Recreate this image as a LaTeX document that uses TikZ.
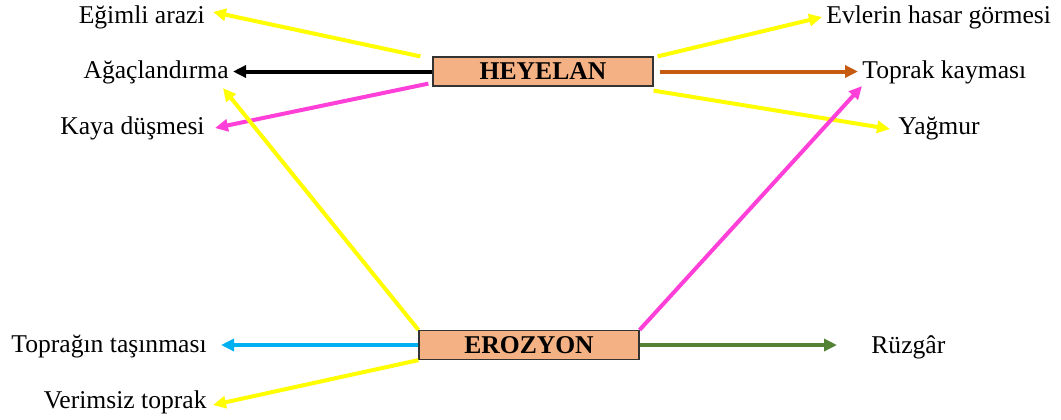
\documentclass[tikz,border=0pt]{standalone}
\usepackage{fontspec}
\setmainfont{Liberation Serif}
\usetikzlibrary{arrows.meta, positioning}

\definecolor{boxfill}{HTML}{F4B183}
\definecolor{sari}{HTML}{FFFF00}
\definecolor{pembe}{HTML}{FF40D8}
\definecolor{kahve}{HTML}{C55A11}
\definecolor{mavi}{HTML}{00B0F0}
\definecolor{yesil}{HTML}{548235}

\begin{document}
\begin{tikzpicture}[
    x=0.5pt, y=-0.5pt,
    every node/.style={font=\fontsize{12.8}{15}\selectfont, inner sep=1pt},
    box/.style={rectangle, draw=black!80, fill=boxfill, line width=0.6pt, minimum width=110pt, minimum height=14.5pt, font=\fontsize{12.8}{15}\selectfont\bfseries},
    arrow/.style={-{Triangle[length=6.5pt, width=6pt]}, line width=2pt}
]
\useasboundingbox (0,0) rectangle (1061,419);

% Nodes
\node[box] (heyelan) at (543,71.5) {HEYELAN};
\node[box] (erozyon) at (529,345) {EROZYON};

\node[anchor=east] (egimli) at (207,17) {Eğimli arazi};
\node[anchor=east] (agac) at (231,72) {Ağaçlandırma};
\node[anchor=east] (kaya) at (207,128) {Kaya düşmesi};
\node[anchor=west] (evler) at (824,17) {Evlerin hasar görmesi};
\node[anchor=west] (toprak) at (860,72) {Toprak kayması};
\node[anchor=west] (yagmur) at (896,129) {Yağmur};
\node[anchor=east] (tasinma) at (209,347) {Toprağın taşınması};
\node[anchor=east] (verimsiz) at (209,402) {Verimsiz toprak};
\node[anchor=west] (ruzgar) at (869,347) {Rüzgâr};

% Arrows
\draw[arrow, sari] ([xshift=-6pt]heyelan.north west) -- ([shift={(3pt,2.5pt)}]egimli.east);
\draw[arrow, black] (heyelan.west) -- ([xshift=1pt]agac.east |- heyelan.west);
\draw[arrow, pembe] ([shift={(-2pt,1.5pt)}]heyelan.south west) -- ([xshift=4pt]kaya.east);
\draw[arrow, sari] (erozyon.north west) -- ([shift={(-4pt,-1pt)}]agac.south east);
\draw[arrow, sari] ([xshift=2pt]heyelan.north east) -- ([xshift=-1pt]evler.west);
\draw[arrow, kahve] ([xshift=3pt]heyelan.east) -- ([xshift=-1pt]toprak.west |- heyelan.east);
\draw[arrow, sari] ([yshift=-2pt]heyelan.south east) -- ([xshift=-3pt]yagmur.west);
\draw[arrow, pembe] (erozyon.north east) -- ([xshift=1pt]toprak.south west);
\draw[arrow, mavi] (erozyon.west) -- ([xshift=6pt]tasinma.east |- erozyon.west);
\draw[arrow, sari] (erozyon.south west) -- ([shift={(2pt,-1.5pt)}]verimsiz.east);
\draw[arrow, yesil] (erozyon.east) -- ([xshift=-16pt]ruzgar.west |- erozyon.east);

\end{tikzpicture}
\end{document}
